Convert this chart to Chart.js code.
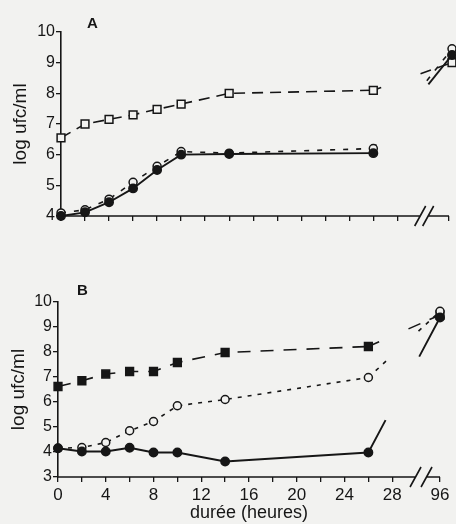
<!DOCTYPE html>
<html>
<head>
<meta charset="utf-8">
<script src="https://cdn.jsdelivr.net/npm/chart.js@4.4.1/dist/chart.umd.min.js"></script>
<style>
  html, body { margin: 0; padding: 0; background: #f2f2f0; }
  #wrap { position: relative; width: 456px; height: 524px; overflow: hidden; }
  canvas { position: absolute; left: 0; }
  #chartA { top: 0; }
  #chartB { top: 260px; }
</style>
</head>
<body>
<div id="wrap">
  <canvas id="chartA" width="456" height="260"></canvas>
  <canvas id="chartB" width="456" height="264"></canvas>
</div>
<script>
// temps de prélèvement (heures) - 96 h est placé après la coupure de l'axe
const hours = [0, 2, 4, 6, 8, 10, 14, 26, 96];
const xTicks = [0, 2, 4, 6, 8, 10, 12, 14, 16, 18, 20, 22, 24, 26, 28];
const xLabels = [0, 4, 8, 12, 16, 20, 24, 28];

// panneau A (log ufc/ml)
const aSquares = [6.55, 7.0, 7.15, 7.3, 7.48, 7.65, 8.0, 8.1, 9.0];
const aOpen = [4.1, 4.2, 4.55, 5.1, 5.62, 6.1, 6.05, 6.2, 9.45];
const aFilled = [4.0, 4.12, 4.45, 4.9, 5.5, 6.0, 6.02, 6.05, 9.25];

// panneau B (log ufc/ml)
const bSquares = [6.62, 6.85, 7.12, 7.22, 7.22, 7.58, 7.98, 8.22, 9.48];
const bOpen = [4.15, 4.18, 4.38, 4.85, 5.22, 5.85, 6.1, 6.98, 9.63];
const bFilled = [4.15, 4.02, 4.02, 4.17, 3.98, 3.98, 3.62, 3.98, 9.38];

const INK = '#161616';
const PAPER = '#f2f2f0';

Chart.defaults.font.family = '"Liberation Sans", Arial, sans-serif';
Chart.defaults.color = INK;

// dash pattern for the segment crossing the axis break: visible start, gap, visible end
function breakDash(p0, p1, dash, s, e) {
    const L = Math.hypot(p1.x - p0.x, p1.y - p0.y);
    const pat = dash.length ? dash : [L, 0];
    const out = [];
    let pos = 0;
    while (pos < s * L) {
        const on = Math.min(pat[0], s * L - pos);
        out.push(on, pat[1]);
        pos += on + pat[1];
    }
    if (out.length) {
        out[out.length - 1] += Math.max(0, e * L - pos);
    } else {
        out.push(0, e * L);
    }
    pos = Math.max(pos, e * L);
    while (pos < L + 30) {
        out.push(pat[0], pat[1]);
        pos += pat[0] + pat[1];
    }
    return out;
}

function series(panel, values, look) {
    return {
        data: hours.map((h, i) => ({ x: h === 96 ? panel.pos96 : h, y: values[i] })),
        borderColor: INK,
        borderWidth: look.width,
        borderDash: look.dash,
        pointStyle: look.point,
        pointRadius: look.radius,
        pointBorderWidth: 1.5,
        pointBackgroundColor: look.fill,
        pointBorderColor: INK,
        tension: 0,
        clip: false,
        order: look.order,
        segment: {
            borderDash: c => c.p1DataIndex === hours.length - 1
                ? breakDash(c.p0, c.p1, look.dash, look.gap[0], look.gap[1])
                : undefined
        }
    };
}

const brokenAxis = {
    id: 'brokenAxis',
    afterDraw(chart, args, opts) {
        const { ctx, chartArea } = chart;
        const y0 = chartArea.bottom;
        const c1 = chart.scales.x.getPixelForValue(opts.breakAt);
        const c2 = c1 + opts.breakGap;
        ctx.save();
        ctx.strokeStyle = INK;
        ctx.lineWidth = 1.6;
        ctx.beginPath();
        ctx.moveTo(chartArea.left, y0);
        ctx.lineTo(c1, y0);
        ctx.moveTo(c2, y0);
        ctx.lineTo(chartArea.right, y0);
        [c1, c2].forEach(c => {
            ctx.moveTo(c - 5.5, y0 + 10);
            ctx.lineTo(c + 5.5, y0 - 10);
        });
        ctx.stroke();
        ctx.fillStyle = INK;
        ctx.font = 'bold 15px "Liberation Sans", Arial, sans-serif';
        ctx.textBaseline = 'alphabetic';
        ctx.fillText(opts.letter, opts.letterX, opts.letterY);
        ctx.restore();
    }
};

function makeChart(id, panel, sets) {
    new Chart(document.getElementById(id), {
        type: 'line',
        data: {
            datasets: [
                series(panel, sets[0], { width: 1.6, dash: panel.squareDash, point: 'rect', radius: 5.5, fill: panel.squareFill, order: 3, gap: panel.gaps[0] }),
                series(panel, sets[1], { width: 1.6, dash: panel.openDash, point: 'circle', radius: 4, fill: PAPER, order: 2, gap: panel.gaps[1] }),
                series(panel, sets[2], { width: 1.9, dash: [], point: 'circle', radius: 4.2, fill: INK, order: 1, gap: panel.gaps[2] })
            ]
        },
        options: {
            responsive: false,
            animation: false,
            layout: { padding: { left: 0, right: panel.padRight, top: panel.top, bottom: 0 } },
            plugins: {
                legend: { display: false },
                tooltip: { enabled: false },
                brokenAxis: panel.axis
            },
            scales: {
                x: {
                    type: 'linear',
                    min: 0,
                    max: panel.xMax,
                    afterFit: s => { s.height = panel.xHeight; },
                    afterBuildTicks: s => { s.ticks = xTicks.concat(panel.xMax).map(v => ({ value: v })); },
                    ticks: {
                        autoSkip: false,
                        maxRotation: 0,
                        padding: 3,
                        font: { size: 17 },
                        callback: v => {
                            if (!panel.showLabels) return '';
                            if (v === panel.xMax) return '96';
                            return xLabels.includes(v) ? String(v) : '';
                        }
                    },
                    grid: { drawOnChartArea: false, tickLength: 5, color: INK, lineWidth: 1.3 },
                    border: { display: false },
                    title: {
                        display: panel.showLabels,
                        text: 'durée (heures)',
                        font: { size: 18 },
                        padding: { top: 0, bottom: 0 }
                    }
                },
                y: {
                    min: panel.yMin,
                    max: 10,
                    afterFit: s => { s.width = panel.yWidth; },
                    ticks: { stepSize: 1, padding: 1, font: { size: 16 } },
                    grid: { drawOnChartArea: false, tickLength: 5, color: INK, lineWidth: 1.3 },
                    border: { display: true, color: INK, width: 1.6 },
                    title: {
                        display: true,
                        text: 'log ufc/ml',
                        font: { size: 19 },
                        padding: { top: panel.titlePad, bottom: 0 }
                    }
                }
            }
        },
        plugins: [brokenAxis]
    });
}

makeChart('chartA', {
    pos96: 32.55, xMax: 32.3, yMin: 4, top: 32, xHeight: 44, yWidth: 61, padRight: 4,
    titlePad: 9, showLabels: false, squareFill: PAPER,
    squareDash: [11, 7], openDash: [5, 8],
    gaps: [[0.1, 0.6], [0.1, 0.68], [0, 0.7]],
    axis: { breakAt: 29.9, breakGap: 8, letter: 'A', letterX: 87, letterY: 28 }
}, [aSquares, aOpen, aFilled]);

makeChart('chartB', {
    pos96: 32, xMax: 32, yMin: 3, top: 42, xHeight: 47, yWidth: 58, padRight: 16,
    titlePad: 7, showLabels: true, squareFill: INK,
    squareDash: [13, 10], openDash: [4, 6],
    gaps: [[0.15, 0.56], [0.25, 0.7], [0.24, 0.71]],
    axis: { breakAt: 29.95, breakGap: 11, letter: 'B', letterX: 77, letterY: 35 }
}, [bSquares, bOpen, bFilled]);
</script>
</body>
</html>
